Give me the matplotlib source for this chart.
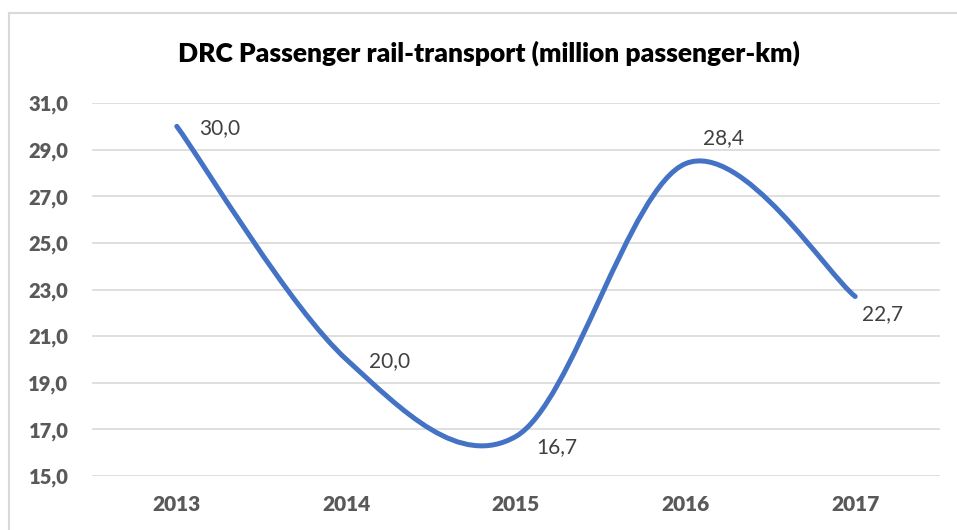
import numpy as np
import matplotlib.pyplot as plt
from matplotlib.path import Path
from matplotlib.patches import PathPatch
from matplotlib.lines import Line2D

years = ['2013', '2014', '2015', '2016', '2017']
passenger_km = [30.0, 20.0, 16.7, 28.4, 22.7]
y_ticks = [15.0, 17.0, 19.0, 21.0, 23.0, 25.0, 27.0, 29.0, 31.0]
# label offsets in pixels (dx, dy) from each point
label_offsets = [(43, -2), (43, -2), (41, -11), (38, 26), (27, -18)]

LINE = '#4472C4'
GRID = '#D9D9D9'
TICK = '#595959'
LABEL = '#404040'


def fmt(v):
    return f'{v:.1f}'.replace('.', ',')


def smooth_path(xs, ys):
    # Catmull-Rom style bezier segments through every point
    pts = np.column_stack([xs, ys]).astype(float)
    n = len(pts)
    verts = [pts[0]]
    codes = [Path.MOVETO]
    for i in range(n - 1):
        p0 = pts[max(i - 1, 0)]
        p1 = pts[i]
        p2 = pts[i + 1]
        p3 = pts[min(i + 2, n - 1)]
        c1 = p1 + (p2 - p0) / 6.0
        c2 = p2 - (p3 - p1) / 6.0
        verts += [c1, c2, p2]
        codes += [Path.CURVE4] * 3
    return Path(verts, codes)


plt.rcParams['font.family'] = ['Lato', 'DejaVu Sans']

fig = plt.figure(figsize=(9.57, 5.30), dpi=100)
ax = fig.add_axes([92 / 957, 1 - 476 / 530, (940 - 92) / 957, (476 - 103) / 530])

x = np.arange(len(years))
patch = PathPatch(smooth_path(x, passenger_km), facecolor='none', edgecolor=LINE,
                  lw=3.6, capstyle='round', joinstyle='round', zorder=3)
ax.add_patch(patch)

for xi, v, (dx, dy) in zip(x, passenger_km, label_offsets):
    ax.annotate(fmt(v), (xi, v), xytext=(dx, dy), textcoords='offset pixels',
                ha='center', va='center', fontsize=15, color=LABEL, zorder=4)

ax.set_xlim(-0.5, len(years) - 0.5)
ax.set_ylim(15, 31)
ax.set_xticks(x)
ax.set_xticklabels(years, fontsize=15, fontweight='heavy', color=TICK)
ax.set_yticks(y_ticks)
ax.set_yticklabels([fmt(t) for t in y_ticks], fontsize=14.5, fontweight='heavy', color=TICK)
ax.tick_params(axis='both', length=0)
ax.tick_params(axis='y', pad=17)
ax.tick_params(axis='x', pad=14)
ax.grid(axis='y', color=GRID, lw=1.2)
ax.set_axisbelow(True)
for s in ax.spines.values():
    s.set_visible(False)

fig.text(489 / 957, 1 - 53 / 530, 'DRC Passenger rail-transport (million passenger-km)',
         ha='center', va='center', fontsize=19, fontweight='heavy', color='black')

# chart border (left and top edges only are in frame)
fig.add_artist(Line2D([9 / 957, 9 / 957], [0, 1 - 13 / 530], color=GRID, lw=1.5))
fig.add_artist(Line2D([9 / 957, 1], [1 - 13 / 530, 1 - 13 / 530], color=GRID, lw=1.5))

fig.savefig('out.png', dpi=100)
